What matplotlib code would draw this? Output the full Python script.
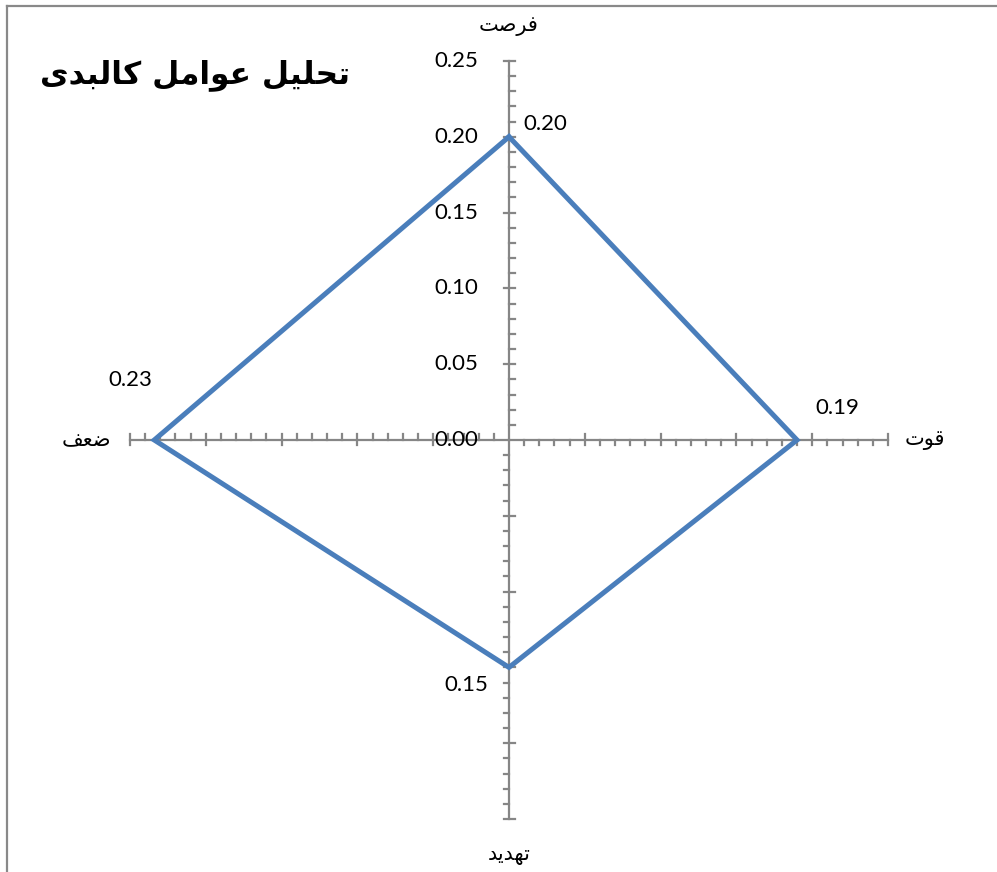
import numpy as np
import matplotlib
matplotlib.use("Agg")
import matplotlib.pyplot as plt

# data
title = "تحلیل عوامل کالبدی"
categories = ["فرصت", "قوت", "تهدید", "ضعف"]
values = [0.20, 0.19, 0.15, 0.234]
angles_deg = [90, 0, -90, 180]          # Excel radar: first category on top, clockwise
r_max = 0.25
major_ticks = [0.00, 0.05, 0.10, 0.15, 0.20, 0.25]
minor_step = 0.01

# small arabic shaper (isolated, final, initial, medial); 2-tuple = right-joining only
FORMS = {
    "ت": (0xFE95, 0xFE96, 0xFE97, 0xFE98), "ح": (0xFEA1, 0xFEA2, 0xFEA3, 0xFEA4),
    "ل": (0xFEDD, 0xFEDE, 0xFEDF, 0xFEE0), "ی": (0xFBFC, 0xFBFD, 0xFBFE, 0xFBFF),
    "ع": (0xFEC9, 0xFECA, 0xFECB, 0xFECC), "م": (0xFEE1, 0xFEE2, 0xFEE3, 0xFEE4),
    "ک": (0xFB8E, 0xFB8F, 0xFB90, 0xFB91), "ب": (0xFE8F, 0xFE90, 0xFE91, 0xFE92),
    "ف": (0xFED1, 0xFED2, 0xFED3, 0xFED4), "ص": (0xFEB9, 0xFEBA, 0xFEBB, 0xFEBC),
    "ق": (0xFED5, 0xFED6, 0xFED7, 0xFED8), "ه": (0xFEE9, 0xFEEA, 0xFEEB, 0xFEEC),
    "ض": (0xFEBD, 0xFEBE, 0xFEBF, 0xFEC0),
    "و": (0xFEED, 0xFEEE), "ا": (0xFE8D, 0xFE8E), "د": (0xFEA9, 0xFEAA), "ر": (0xFEAD, 0xFEAE),
}


def shape(s):
    out = []
    for i, c in enumerate(s):
        if c not in FORMS:
            out.append(c)
            continue
        prev = s[i - 1] if i > 0 else ""
        nxt = s[i + 1] if i + 1 < len(s) else ""
        jp = prev in FORMS and len(FORMS[prev]) == 4
        jn = len(FORMS[c]) == 4 and nxt in FORMS
        f = FORMS[c]
        if jp and jn:
            g = f[3]
        elif jp:
            g = f[1]
        elif jn:
            g = f[2]
        else:
            g = f[0]
        out.append(chr(g))
    return "".join(out)[::-1]


W, H = 997, 872
cx, cy = 509, 440       # pixel centre of the radar
scale = 379 / r_max     # pixels per data unit

fig = plt.figure(figsize=(W / 100, H / 100), dpi=100)
ax = fig.add_axes([0, 0, 1, 1])
ax.set_xlim(-cx / scale, (W - cx) / scale)
ax.set_ylim(-(H - cy) / scale, cy / scale)
ax.axis("off")

axis_col = "#868686"
tick = 5.5 / scale
ang = np.radians(angles_deg)

# category axes with ticks
for a in ang:
    d = np.array([np.cos(a), np.sin(a)])
    n = np.array([d[1], -d[0]])     # clockwise side
    ax.plot([0, r_max * d[0]], [0, r_max * d[1]], color=axis_col, lw=1.6, zorder=1)
    for t in np.arange(minor_step, r_max + 1e-9, minor_step):
        p = t * d
        if any(abs(t - m) < 1e-9 for m in major_ticks):
            q0, q1 = p - n * tick, p + n * tick
        else:
            q0, q1 = p, p + n * tick
        ax.plot([q0[0], q1[0]], [q0[1], q1[1]], color=axis_col, lw=1.6, zorder=1)

# value axis labels on the first (top) axis
for m in major_ticks:
    ax.text(-31 / scale, m, f"{m:.2f}", ha="right", va="center",
            fontsize=16, family="Lato", color="black")

# series
xs = [v * np.cos(a) for v, a in zip(values, ang)]
ys = [v * np.sin(a) for v, a in zip(values, ang)]
ax.plot(xs + xs[:1], ys + ys[:1], color="#4A7EBB", lw=3.6, solid_joinstyle="miter", zorder=3)

# data labels
offs = [(14, 13, "left"), (18, 32, "left"), (-21, -18, "right"), (-2, 60, "right")]
for x, y, v, (dx, dy, ha) in zip(xs, ys, values, offs):
    ax.text(x + dx / scale, y + dy / scale, f"{v:.2f}", ha=ha, va="center",
            fontsize=16, family="Lato", color="black")

# category labels
lab_pos = [(0, 414, "center"), (396, 0, "left"), (0, -415, "center"), (-398, 0, "right")]
for c, (dx, dy, ha) in zip(categories, lab_pos):
    ax.text(dx / scale, dy / scale, shape(c), ha=ha, va="center",
            fontsize=15, family="DejaVu Sans", color="black")

fig.text(350 / W, 1 - 75 / H, shape(title), ha="right", va="center",
         fontsize=22.5, fontweight="bold", family="DejaVu Sans")

# chart area border (left and top edges visible)
fig.add_artist(plt.Line2D([7 / W, 7 / W], [0, 1 - 6 / H], color="#898989", lw=1.6))
fig.add_artist(plt.Line2D([7 / W, 1], [1 - 6 / H, 1 - 6 / H], color="#898989", lw=1.6))

fig.savefig("out.png", dpi=100)
